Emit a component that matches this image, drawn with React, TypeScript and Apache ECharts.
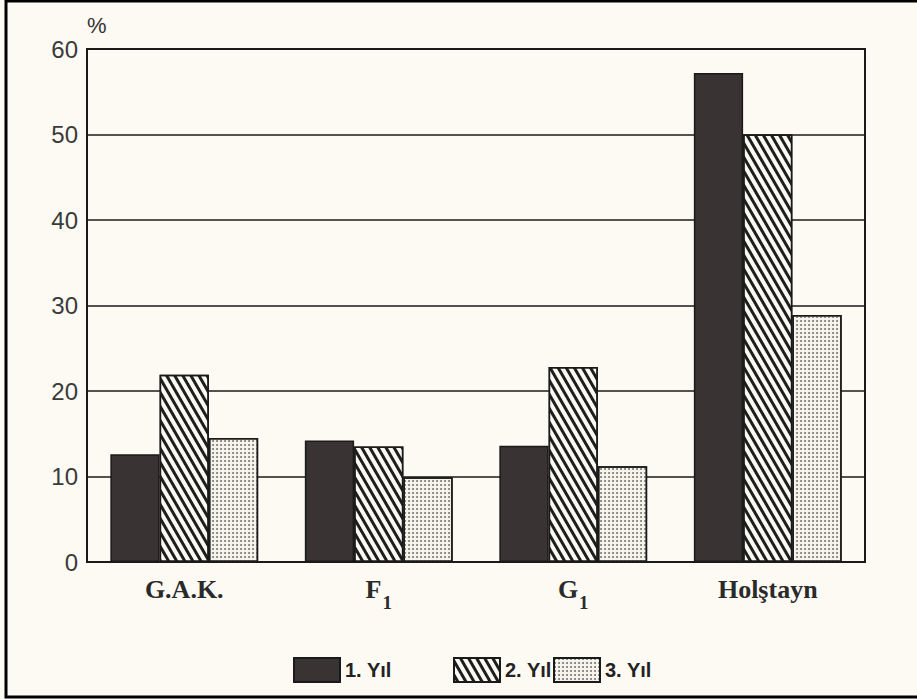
import React, { useEffect, useRef } from "react";
import * as echarts from "echarts";

const categories = ["G.A.K.", "F1", "G1", "Holştayn"];
const categoryLabels = ["{main|G.A.K.}", "{main|F}{sub|1}", "{main|G}{sub|1}", "{main|Holştayn}"];
const seriesNames = ["1. Yıl", "2. Yıl", "3. Yıl"];
const year1 = [12.6, 14.2, 13.6, 57.2];
const year2 = [21.9, 13.5, 22.8, 50.0];
const year3 = [14.5, 9.9, 11.2, 28.9];
const yTicks = [0, 10, 20, 30, 40, 50, 60];

export default function App() {
  const ref = useRef<HTMLDivElement>(null);
  useEffect(() => {
    if (!ref.current) return;
    const chart = echarts.init(ref.current, undefined, { renderer: "svg" });
    const border = { borderColor: "#1a1a1a", borderWidth: 1.5 };
    const styles = [
      { color: "#3a3333", ...border },
      {
        color: "#fbf9f1",
        ...border,
        decal: {
          symbol: "rect",
          color: "#1e1e1e",
          dashArrayX: [1, 0],
          dashArrayY: [2.5, 3.5],
          symbolSize: 1,
          rotation: Math.PI / 3,
        },
      },
      {
        color: "#f6f3ea",
        ...border,
        decal: {
          symbol: "circle",
          color: "#6a6a6a",
          dashArrayX: [2, 2],
          dashArrayY: [2, 2],
          symbolSize: 0.9,
          rotation: 0,
        },
      },
    ];
    const data = [year1, year2, year3];
    const legendLefts = [288, 448, 548];
    const labelFont = {
      fontFamily: "Liberation Serif",
      fontWeight: "bold",
      color: "#2a2a2a",
    };
    chart.setOption({
      animation: false,
      backgroundColor: "#fcfaf2",
      grid: {
        left: 87,
        right: 52,
        top: 49,
        bottom: 137,
        show: true,
        borderColor: "#1a1a1a",
        borderWidth: 2,
        backgroundColor: "transparent",
      },
      legend: seriesNames.map((n, i) => ({
        data: [n],
        left: legendLefts[i],
        top: 652,
        icon: "rect",
        itemWidth: 46,
        itemHeight: 24,
        itemGap: 6,
        textStyle: {
          fontFamily: "Liberation Sans",
          fontSize: 20,
          fontWeight: "bold",
          color: "#222",
        },
      })),
      xAxis: {
        type: "category",
        data: categories,
        axisTick: { show: false },
        axisLine: { lineStyle: { color: "#1a1a1a", width: 2 } },
        axisLabel: {
          interval: 0,
          hideOverlap: false,
          margin: 14,
          formatter: (_v: string, i: number) => categoryLabels[i],
          ...labelFont,
          fontSize: 26,
          rich: {
            main: { ...labelFont, fontSize: 26, padding: [0, 0, 10, 0] },
            sub: { ...labelFont, fontSize: 19, padding: [17, 0, 0, 1] },
          },
        },
      },
      yAxis: {
        type: "value",
        min: yTicks[0],
        max: yTicks[yTicks.length - 1],
        interval: 10,
        axisLine: { show: true, lineStyle: { color: "#1a1a1a", width: 2 } },
        axisTick: { show: false },
        splitLine: { lineStyle: { color: "#1a1a1a", width: 1.5 } },
        axisLabel: {
          margin: 9,
          fontFamily: "Liberation Sans",
          fontSize: 24,
          color: "#3a3a3a",
        },
      },
      series: seriesNames.map((n, i) => ({
        name: n,
        type: "bar",
        data: data[i],
        barGap: "0%",
        barCategoryGap: "24%",
        itemStyle: styles[i],
      })),
      graphic: [
        {
          type: "text",
          left: 87,
          top: 14,
          style: {
            text: "%",
            fontFamily: "Liberation Sans",
            fontSize: 22,
            fill: "#333",
          },
        },
        {
          type: "rect",
          shape: { x: 6, y: 1, width: 915, height: 696 },
          style: { fill: "none", stroke: "#000", lineWidth: 3 },
          silent: true,
        },
      ],
    });
    return () => chart.dispose();
  }, []);
  return (
    <div
      ref={ref}
      style={{ position: "absolute", left: 0, top: 0, width: 917, height: 699 }}
    />
  );
}
